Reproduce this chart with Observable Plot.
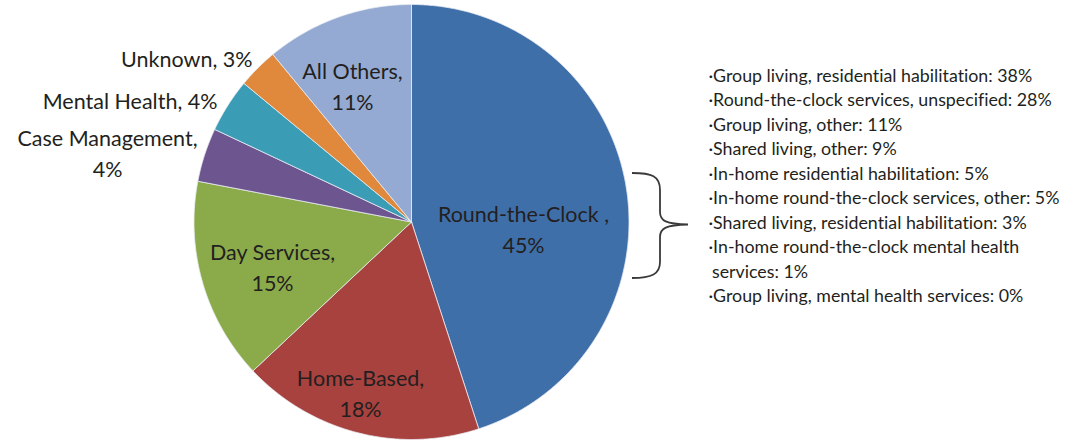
<!DOCTYPE html>
<html>
<head>
<meta charset="utf-8">
<script src="https://cdn.jsdelivr.net/npm/d3@7"></script>
<script src="https://cdn.jsdelivr.net/npm/@observablehq/plot@0.6"></script>
<style>
  html, body { margin: 0; padding: 0; background: #fff; }
  svg { display: block; font-variant-ligatures: none; font-feature-settings: "liga" 0; }
</style>
</head>
<body>
<div id="chart"></div>
<script>
// ---- data ----
const categories = ["Round-the-Clock", "Home-Based", "Day Services", "Case Management", "Mental Health", "Unknown", "All Others"];
const shares = [45, 18, 15, 4, 4, 3, 11];
const sliceColors = ["#3f6fa9", "#a8423f", "#8bab4b", "#6d5590", "#3b9db5", "#e0883b", "#94aad2"];

const detailLabels = [
  "Group living, residential habilitation",
  "Round-the-clock services, unspecified",
  "Group living, other",
  "Shared living, other",
  "In-home residential habilitation",
  "In-home round-the-clock services, other",
  "Shared living, residential habilitation",
  "In-home round-the-clock mental health services",
  "Group living, mental health services"
];
const detailShares = [38, 28, 11, 9, 5, 5, 3, 1, 0];

// ---- layout (pixels) ----
const W = 1067, H = 443;
const cx = 411, cy = 221.5, R = 217.5;
const labelFont = 21.5, labelLH = 31;
// label block centres and anchors, one per category
const labelLayout = [
  {x: 523, y: 227, anchor: "middle", wrap: true},
  {x: 360, y: 391.5, anchor: "middle", wrap: true},
  {x: 272, y: 265.5, anchor: "middle", wrap: true},
  {x: 107, y: 151.5, anchor: "middle", wrap: true},
  {x: 217, y: 98.5, anchor: "end", wrap: false},
  {x: 252, y: 56.5, anchor: "end", wrap: false},
  {x: 352, y: 84.5, anchor: "middle", wrap: true}
];
const listX = 708, listFirstBaseline = 81.5, listStep = 24.45, listFont = 17.8;

// ---- build pie geometry from the data ----
const pie = d3.pie().sort(null).value(d => d)(shares);
const slices = pie.map((p, i) => {
  const pts = [[cx, cy]];
  const n = Math.max(2, Math.ceil((p.endAngle - p.startAngle) / 0.005));
  for (let k = 0; k <= n; k++) {
    const a = p.startAngle + (p.endAngle - p.startAngle) * k / n;
    pts.push([cx + R * Math.sin(a), cy - R * Math.cos(a)]);
  }
  pts.push([cx, cy]);
  return {name: categories[i], color: sliceColors[i], pts};
});

const labels = categories.map((c, i) => {
  const L = labelLayout[i];
  const text = L.wrap ? `${c},\n${shares[i]}%` : `${c}, ${shares[i]}%`;
  return {text: i === 0 ? `${c} ,\n${shares[i]}%` : text, x: L.x, y: L.y, anchor: L.anchor};
});

// detail list lines (wrap long entries)
const listLines = [];
detailLabels.forEach((lab, i) => {
  const full = `\u00b7${lab}: ${detailShares[i]}%`;
  if (full.length > 46) {
    const cut = full.lastIndexOf(" ", 40);
    listLines.push({t: full.slice(0, cut), indent: false});
    listLines.push({t: full.slice(cut + 1), indent: true});
  } else listLines.push({t: full, indent: false});
});
listLines.forEach((d, i) => { d.y = listFirstBaseline + i * listStep - 0.32 * listFont; d.x = listX + (d.indent ? 3.5 : 0); });

const fontFamily = "Lato, 'Open Sans', sans-serif";

const marks = [];
slices.forEach(s => {
  marks.push(Plot.line(s.pts, {x: d => d[0], y: d => d[1], fill: s.color, stroke: "#e8ecf2", strokeWidth: 0.8, strokeLinejoin: "round", curve: "linear"}));
});
["middle", "end"].forEach(anchor => {
  marks.push(Plot.text(labels.filter(d => d.anchor === anchor), {
    x: "x", y: "y", text: "text", textAnchor: anchor, lineAnchor: "middle",
    lineHeight: labelLH / labelFont, fontSize: labelFont, fill: "#231f20", fontFamily
  }));
});
marks.push(Plot.text(listLines, {x: "x", y: "y", text: "t", textAnchor: "start", lineAnchor: "middle", fontSize: listFont, fill: "#231f20", fontFamily}));

const chart = Plot.plot({
  width: W, height: H,
  margin: 0,
  x: {type: "identity", axis: null},
  y: {type: "identity", axis: null},
  style: {background: "#fff", fontFamily},
  marks
});

// curly brace linking Round-the-Clock to the breakdown list
d3.select(chart).append("path")
  .attr("d", "M632,173 C652,173 660,176 660,190 L660,212 C660,221 666,224 688,224.5 C666,225 660,228 660,237 L660,262 C660,274 652,278 632,278")
  .attr("fill", "none").attr("stroke", "#3a3a3a").attr("stroke-width", 1.8);

document.getElementById("chart").appendChild(chart);
</script>
</body>
</html>
